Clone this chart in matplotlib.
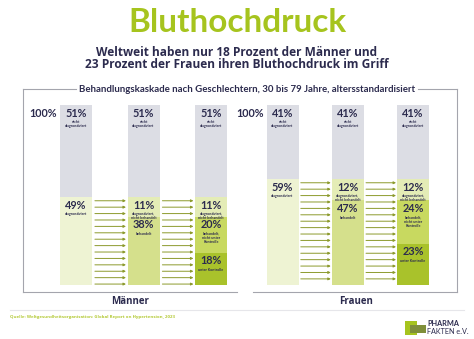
import numpy as np
import matplotlib
matplotlib.use("Agg")
import matplotlib.pyplot as plt
from matplotlib.patches import Polygon
from matplotlib.lines import Line2D

# data (percent of people with hypertension, 30-79 years)
steps = [0, 1, 2]
men_values = [[51, 49], [51, 11, 38], [51, 11, 20, 18]]
women_values = [[41, 59], [41, 12, 47], [41, 12, 24, 23]]
segment_labels = [
    ["nicht\ndiagnostiziert", "diagnostiziert"],
    ["nicht\ndiagnostiziert", "diagnostiziert,\nnicht behandelt", "behandelt"],
    ["nicht\ndiagnostiziert", "diagnostiziert,\nnicht behandelt",
     "behandelt,\nnicht unter\nKontrolle", "unter Kontrolle"],
]
panel_names = ["Männer", "Frauen"]

# styling
grey = '#dcdde4'
seg_colors = [
    [grey, '#eef3d3'],
    [grey, '#e4ecb6', '#d5e08c'],
    [grey, '#e4ecb6', '#c8d960', '#a9c22b'],
]
navy = '#2c2b4e'
lime = '#a6c41e'
arrow_col = '#8c9a2c'
frame_col = '#a4a5ad'

W, H = 474, 339
fig = plt.figure(figsize=(W / 100, H / 100), dpi=100)
fig.patch.set_facecolor('white')


def fx(x):
    return x / W


def fy(y):
    return 1 - y / H


# titles
fig.text(fx(237), fy(23), "Bluthochdruck", ha='center', va='center',
         fontsize=24, fontweight='bold', family='Lato', color=lime)
fig.text(fx(237), fy(52), "Weltweit haben nur 18 Prozent der Männer und",
         ha='center', va='center', fontsize=8.6, fontweight='bold',
         family='Open Sans', color=navy)
fig.text(fx(237), fy(65), "23 Prozent der Frauen ihren Bluthochdruck im Griff",
         ha='center', va='center', fontsize=8.6, fontweight='bold',
         family='Open Sans', color=navy)
fig.text(fx(247), fy(89), "Behandlungskaskade nach Geschlechtern, 30 bis 79 Jahre, altersstandardisiert",
         ha='center', va='center', fontsize=6.9, fontweight='bold',
         family='Lato', color=navy)

# frame around both panels
frame = [([23, 76], [89, 89]), ([418, 457], [89, 89]),
         ([23, 23], [89, 292]), ([457, 457], [89, 292]),
         ([23, 237], [292, 292]), ([253, 457], [292, 292])]
for xs, ys in frame:
    fig.add_artist(Line2D([fx(x) for x in xs], [fy(y) for y in ys],
                          color=frame_col, lw=0.8))

# panels: (box left, box right, first bar centre px, px per step)
panels = [(23, 237, 76, 67.5, men_values), (253, 457, 282.5, 65.25, women_values)]
px_per_pct = 1.8
for p, (bl, br, c0, step_px, values) in enumerate(panels):
    ax = fig.add_axes([fx(bl), fy(292), (br - bl) / W, (292 - 89) / H])
    ax.set_xlim(-(c0 - bl) / step_px, (br - c0) / step_px)
    ax.set_ylim(-(292 - 285) / px_per_pct, 100 + (105 - 89) / px_per_pct)
    ax.axis('off')
    bw = 32 / step_px
    for i in steps:
        top = 100
        for j, v in enumerate(values[i]):
            ax.bar(i, v, bottom=top - v, width=bw, color=seg_colors[i][j], lw=0)
            ax.text(i, top - 4.6, f"{v}%", ha='center', va='center', fontsize=7.8,
                    fontweight='bold', family='Lato', color=navy)
            ax.text(i, top - 8.4, segment_labels[i][j], ha='center', va='top',
                    fontsize=2.6, fontweight='bold', family='Lato', color=navy,
                    linespacing=1.1)
            top -= v
    ax.text(-0.49, 95.5, "100%", ha='center', va='center', fontsize=7.8,
            fontweight='bold', family='Lato', color=navy, clip_on=False)
    # arrows between the steps
    diag = 100 - values[0][0]
    for i in steps[:-1]:
        for y in np.arange(diag - 2.2, 0, -3.56):
            ax.annotate("", xy=(i + 0.74, y), xytext=(i + 0.28, y),
                        arrowprops=dict(arrowstyle='-|>', color=arrow_col,
                                        lw=0.7, mutation_scale=3.5,
                                        shrinkA=0, shrinkB=0))
    fig.text(fx((bl + br) / 2 + (1 if p else 0)), fy(301), panel_names[p],
             ha='center', va='center', fontsize=7, fontweight='bold',
             family='Open Sans', color=navy)

# separator and source
fig.add_artist(Line2D([fx(10), fx(464)], [fy(310), fy(310)], color='#e6e6ea', lw=0.8))
fig.text(fx(10), fy(317), "Quelle: Weltgesundheitsorganisation: Global Report on Hypertension, 2023",
         ha='left', va='center', fontsize=3.2, fontweight='bold',
         family='Open Sans', color='#b3c935')

# logo
fig.add_artist(Polygon([(fx(405), fy(321)), (fx(417), fy(321)), (fx(417), fy(335)), (fx(405), fy(335))],
                       closed=True, color='#a6c41e', lw=0))
fig.add_artist(Polygon([(fx(410), fy(325)), (fx(426), fy(325)), (fx(426), fy(333)), (fx(410), fy(333))],
                       closed=True, color='#7f8f3a', lw=0))
fig.text(fx(427), fy(324), "PHARMA", ha='left', va='center', fontsize=5.2,
         fontweight='bold', family='Lato', color=navy)
fig.text(fx(427), fy(331), "FAKTEN e.V.", ha='left', va='center', fontsize=5.2,
         family='Lato', color=navy)

fig.savefig('out.png', dpi=100, facecolor='white')
